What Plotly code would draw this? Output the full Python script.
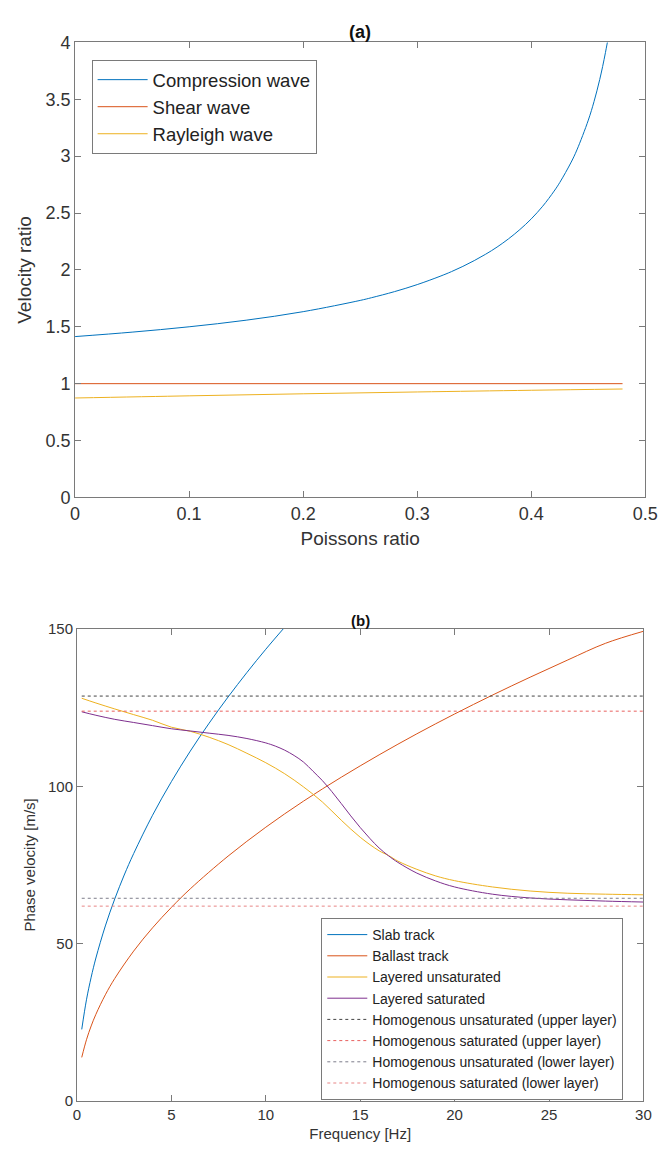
import plotly.graph_objects as go

# ---------- Panel (a): velocity ratios vs Poisson's ratio ----------
poisson = [0.0, 0.05, 0.1, 0.15, 0.2, 0.25, 0.26, 0.28, 0.3, 0.32, 0.33, 0.34, 0.35,
           0.36, 0.37, 0.38, 0.39, 0.4, 0.41, 0.42, 0.425, 0.435, 0.44, 0.45, 0.455,
           0.46, 0.465, 0.47, 0.48]
compression = [1.414, 1.453, 1.5, 1.558, 1.633, 1.732, 1.756, 1.809, 1.871, 1.944,
               1.985, 2.031, 2.082, 2.138, 2.201, 2.273, 2.355, 2.449, 2.560, 2.693,
               2.769, 2.948, 3.055, 3.317, 3.480, 3.674, 3.910, 4.203, 5.099]

poisson_sr = [0.0, 0.1, 0.2, 0.3, 0.4, 0.48]
shear = [1.0, 1.0, 1.0, 1.0, 1.0, 1.0]
rayleigh = [0.874, 0.893, 0.911, 0.927, 0.942, 0.953]

# ---------- Panel (b): phase velocity vs frequency ----------
freq_slab = [0.25, 0.5, 0.75, 1, 1.5, 2, 2.5, 3, 4, 5, 6, 7, 8, 9, 10, 11]
slab = [22.7, 32.1, 39.3, 45.4, 55.6, 64.2, 71.8, 78.6, 90.8, 101.5, 111.2, 120.1,
        128.4, 136.2, 143.6, 150.6]

freq_ballast = [0.25, 0.5, 0.75, 1, 1.5, 2, 3, 4, 5, 6, 8, 10, 12, 14, 16, 18, 20,
                22, 24, 26, 28, 30]
ballast = [13.8, 19.4, 23.8, 27.5, 33.7, 38.9, 47.6, 55.0, 61.5, 67.4, 77.8, 87.0,
           95.3, 102.9, 110.0, 116.7, 123.0, 129.0, 134.7, 140.2, 145.5, 149.3]

freq_unsat = [0.25, 1, 2, 3, 4, 5, 6, 7, 8, 9, 10, 11, 12, 13, 14, 15, 16, 16.5, 17,
              18, 19, 20, 22, 24, 26, 28, 30]
layered_unsat = [128.0, 126.5, 124.6, 122.8, 121.0, 118.8, 117.5, 115.6, 113.3, 110.5,
                 107.5, 104.0, 99.8, 95.0, 89.2, 83.8, 79.5, 78.0, 76.2, 73.6, 71.5,
                 70.0, 68.0, 66.7, 66.0, 65.7, 65.5]

freq_sat = [0.25, 1, 2, 3, 4, 5, 6, 7, 8, 9, 10, 10.5, 11, 11.5, 12, 12.5, 13, 13.5,
            14, 14.5, 15, 15.5, 16, 16.5, 17, 18, 19, 20, 22, 24, 26, 28, 30]
layered_sat = [123.7, 122.6, 121.3, 120.3, 119.3, 118.3, 117.6, 116.9, 116.2, 115.2,
               113.8, 112.8, 111.5, 109.8, 107.7, 104.8, 101.8, 98.3, 94.5, 90.6, 86.9,
               83.5, 80.4, 77.9, 75.8, 72.4, 69.9, 68.0, 65.7, 64.5, 63.9, 63.5, 63.2]

freq_homog = [0.25, 30]
homog_unsat_upper = [128.7, 128.7]
homog_sat_upper = [123.9, 123.9]
homog_unsat_lower = [64.4, 64.4]
homog_sat_lower = [61.9, 61.9]

BLUE = "#0072BD"
ORANGE = "#D95319"
YELLOW = "#EDB120"
PURPLE = "#7E2F8E"
AXIS = "#7a7a7a"
TEXT = "#333333"
FONT = "Liberation Sans, Arial, sans-serif"

fig = go.Figure()

# panel (a)
fig.add_trace(go.Scatter(x=poisson, y=compression, mode="lines", name="Compression wave",
                         line=dict(color=BLUE, width=1, shape="spline"),
                         xaxis="x", yaxis="y", legend="legend"))
fig.add_trace(go.Scatter(x=poisson_sr, y=shear, mode="lines", name="Shear wave",
                         line=dict(color=ORANGE, width=1),
                         xaxis="x", yaxis="y", legend="legend"))
fig.add_trace(go.Scatter(x=poisson_sr, y=rayleigh, mode="lines", name="Rayleigh wave",
                         line=dict(color=YELLOW, width=1, shape="spline"),
                         xaxis="x", yaxis="y", legend="legend"))

# panel (b)
b_series = [
    (freq_slab, slab, "Slab track", dict(color=BLUE, width=1, shape="spline")),
    (freq_ballast, ballast, "Ballast track", dict(color=ORANGE, width=1, shape="spline")),
    (freq_unsat, layered_unsat, "Layered unsaturated", dict(color=YELLOW, width=1, shape="spline")),
    (freq_sat, layered_sat, "Layered saturated", dict(color=PURPLE, width=1, shape="spline")),
    (freq_homog, homog_unsat_upper, "Homogenous unsaturated (upper layer)",
     dict(color="#444444", width=1, dash="dot")),
    (freq_homog, homog_sat_upper, "Homogenous saturated (upper layer)",
     dict(color="#e8605f", width=1, dash="dot")),
    (freq_homog, homog_unsat_lower, "Homogenous unsaturated (lower layer)",
     dict(color="#7d7d8a", width=1, dash="dot")),
    (freq_homog, homog_sat_lower, "Homogenous saturated (lower layer)",
     dict(color="#e88585", width=1, dash="dot")),
]
for xs, ys, nm, ln in b_series:
    fig.add_trace(go.Scatter(x=xs, y=ys, mode="lines", name=nm, line=ln,
                             xaxis="x2", yaxis="y2", legend="legend2"))

W, H = 671, 1155


def px_x(p):
    return p / W


def px_y(p):
    return 1 - p / H


def axis_style(size, **kw):
    d = dict(showline=True, linecolor=AXIS, linewidth=1, mirror="ticks",
             ticks="inside", ticklen=6, tickcolor=AXIS, tickwidth=1,
             showgrid=False, zeroline=False,
             tickfont=dict(family=FONT, size=size, color=TEXT))
    d.update(kw)
    return d


fig.update_layout(
    width=W, height=H,
    margin=dict(l=0, r=0, t=0, b=0),
    paper_bgcolor="white", plot_bgcolor="white",
    font=dict(family=FONT, color=TEXT),
    xaxis=axis_style(18, domain=[px_x(72), px_x(658)], range=[0, 0.5], anchor="y",
                     tickvals=[0, 0.1, 0.2, 0.3, 0.4, 0.5],
                     ticktext=["0", "0.1", "0.2", "0.3", "0.4", "0.5"],
                     title=dict(text="Poissons ratio", font=dict(size=19, color=TEXT), standoff=8)),
    yaxis=axis_style(18, domain=[px_y(496), px_y(33)], range=[0, 4], anchor="x",
                     tickvals=[0, 0.5, 1, 1.5, 2, 2.5, 3, 3.5, 4],
                     ticktext=["0", "0.5", "1", "1.5", "2", "2.5", "3", "3.5", "4"],
                     title=dict(text="Velocity ratio", font=dict(size=19, color=TEXT), standoff=8)),
    xaxis2=axis_style(15, domain=[px_x(74), px_x(656)], range=[0, 30], anchor="y2",
                      tickvals=[0, 5, 10, 15, 20, 25, 30],
                      title=dict(text="Frequency [Hz]", font=dict(size=15, color=TEXT), standoff=6)),
    yaxis2=axis_style(15, domain=[px_y(1110), px_y(630)], range=[0, 150], anchor="x2",
                      tickvals=[0, 50, 100, 150],
                      title=dict(text="Phase velocity [m/s]", font=dict(size=15, color=TEXT), standoff=8)),
    legend=dict(x=px_x(89), y=px_y(51), xanchor="left", yanchor="top",
                bgcolor="white", bordercolor=AXIS, borderwidth=1,
                font=dict(family=FONT, size=18.5, color="#222222"),
                tracegroupgap=0, itemwidth=50),
    legend2=dict(x=px_x(325), y=px_y(924), xanchor="left", yanchor="top",
                 bgcolor="white", bordercolor=AXIS, borderwidth=1,
                 font=dict(family=FONT, size=14, color="#222222"),
                 tracegroupgap=0, itemwidth=40),
    showlegend=True,
    annotations=[
        dict(text="<b>(a)</b>", x=0.5 * (px_x(72) + px_x(658)), y=px_y(22),
             xref="paper", yref="paper", xanchor="center", yanchor="middle",
             showarrow=False, font=dict(family=FONT, size=18, color="#111111")),
        dict(text="<b>(b)</b>", x=0.5 * (px_x(74) + px_x(656)), y=px_y(621),
             xref="paper", yref="paper", xanchor="center", yanchor="middle",
             showarrow=False, font=dict(family=FONT, size=15, color="#111111")),
    ],
)

fig.write_html("out.html")
